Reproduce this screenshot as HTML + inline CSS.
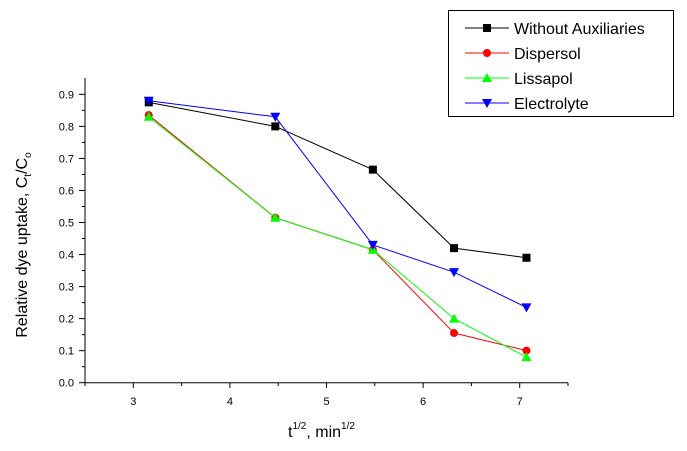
<!DOCTYPE html>
<html><head><meta charset="utf-8"><style>
body{margin:0;background:#fff}
svg{display:block;font-family:"Liberation Sans",Arial,sans-serif}
</style></head><body>
<svg id="chart" width="687" height="451">
<g id="axes"></g><g id="series"></g>
<text transform="translate(27,245) rotate(-90)" text-anchor="middle" font-size="16">Relative dye uptake, C<tspan font-size="10" dy="4">t</tspan><tspan dy="-4">/C</tspan><tspan font-size="10" dy="4">o</tspan></text>
<text x="288" y="437" font-size="16">t<tspan font-size="10" dy="-8">1/2</tspan><tspan dy="8">, min</tspan><tspan font-size="10" dy="-8">1/2</tspan></text>
<g>
<rect x="448.5" y="10.5" width="225" height="106" fill="#fff" stroke="#000"/>
</g>
</svg>
<script>
const xValues=[3.16,4.47,5.48,6.32,7.07];
const seriesNames=["Without Auxiliaries","Dispersol","Lissapol","Electrolyte"];
const withoutAux=[0.875,0.80,0.665,0.42,0.39];
const dispersol=[0.835,0.515,0.415,0.155,0.10];
const lissapol=[0.83,0.515,0.415,0.20,0.08];
const electrolyte=[0.88,0.83,0.43,0.345,0.235];
const xTicks=[3,4,5,6,7];
const yTicks=[0,0.1,0.2,0.3,0.4,0.5,0.6,0.7,0.8,0.9];
const NS="http://www.w3.org/2000/svg";
const X=v=>85+(v-2.5)*96.6, Y=v=>382.7-v*320.4;
function mk(t,a,p){const e=document.createElementNS(NS,t);for(const k in a)e.setAttribute(k,a[k]);p.appendChild(e);return e;}
const ax=document.getElementById('axes'),sg=document.getElementById('series'),svg=document.getElementById('chart');
mk('line',{x1:85,y1:78,x2:85,y2:383,stroke:'#000'},ax);
mk('line',{x1:85,y1:382.7,x2:568,y2:382.7,stroke:'#000'},ax);
for(let v=2.5;v<=7.51;v+=0.5){const l=mk('line',{x1:X(v),x2:X(v),y1:383,y2:(Math.abs(v-Math.round(v))<0.01)?388:386,stroke:'#000'},ax);}
xTicks.forEach(v=>{const t=mk('text',{x:X(v),y:405,'text-anchor':'middle','font-size':11},ax);t.textContent=v;

});
for(let i=0;i<19;i++){const v=i*0.05;mk('line',{x1:85,x2:i%2?82:79,y1:Y(v),y2:Y(v),stroke:'#000'},ax);}
yTicks.forEach(v=>{const t=mk('text',{x:74,y:Y(v)+4,'text-anchor':'end','font-size':11},ax);t.textContent=v.toFixed(1);

});
function marker(type,cx,cy,c,p){
 if(type==='sq')return mk('rect',{x:cx-4,y:cy-4,width:8,height:8,fill:c},p);
 if(type==='ci')return mk('circle',{cx,cy,r:4,fill:c},p);
 if(type==='up')return mk('polygon',{points:`${cx-5},${cy+4} ${cx+5},${cy+4} ${cx},${cy-5}`,fill:c},p);
 return mk('polygon',{points:`${cx-5},${cy-4} ${cx+5},${cy-4} ${cx},${cy+5}`,fill:c},p);}
const all=[withoutAux,dispersol,lissapol,electrolyte],cols=['#000','#f00','#0f0','#00f'],mks=['sq','ci','up','dn'];
all.forEach((d,s)=>{const g=mk('g',{},sg);


mk('polyline',{points:d.map((v,i)=>X(xValues[i])+','+Y(v)).join(' '),fill:'none',stroke:cols[s],'stroke-width':1},g);
d.forEach((v,i)=>{const m=marker(mks[s],X(xValues[i]),Y(v),cols[s],g);

});
const ly=28+s*25,lg=mk('g',{},svg);


mk('line',{x1:465,x2:509,y1:ly,y2:ly,stroke:cols[s]},lg);marker(mks[s],487,ly,cols[s],lg);
const t=mk('text',{x:514,y:ly+6,'font-size':16},lg);t.textContent=seriesNames[s];});
</script>
</body></html>
